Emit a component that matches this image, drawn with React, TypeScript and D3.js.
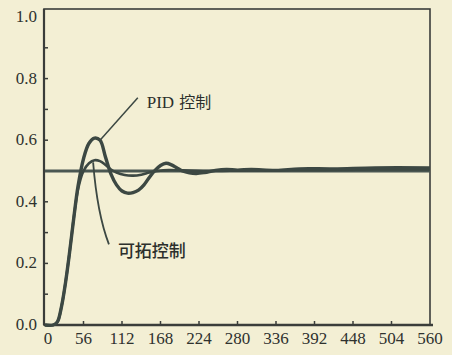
import React from "react";
import * as d3 from "d3";

// Step response: time axis and the two controller outputs
const pidTime = [0, 12, 18, 24, 30, 36, 42, 48, 56, 64, 72, 80, 88, 96, 104, 112, 120, 128, 136, 144, 152, 160, 168, 176, 184, 192, 200, 210, 220, 232, 248, 264, 280, 300, 336, 370, 420, 480, 560];
const pidValue = [0, 0, 0.01, 0.06, 0.14, 0.24, 0.35, 0.45, 0.54, 0.59, 0.607, 0.6, 0.545, 0.49, 0.455, 0.435, 0.428, 0.43, 0.438, 0.455, 0.48, 0.502, 0.518, 0.525, 0.52, 0.51, 0.5, 0.494, 0.492, 0.495, 0.502, 0.505, 0.503, 0.505, 0.502, 0.507, 0.507, 0.51, 0.51];

const extTime = [0, 12, 18, 24, 30, 36, 42, 48, 56, 64, 72, 80, 88, 96, 104, 116, 128, 140, 152, 164, 180, 200, 230, 300, 400, 480, 560];
const extValue = [0, 0, 0.01, 0.06, 0.14, 0.24, 0.35, 0.44, 0.5, 0.525, 0.535, 0.532, 0.52, 0.505, 0.495, 0.487, 0.485, 0.488, 0.495, 0.5, 0.503, 0.502, 0.5, 0.502, 0.503, 0.505, 0.505];

const setpoint = 0.5;

const xTicks = [0, 56, 112, 168, 224, 280, 336, 392, 448, 504, 560];
const yTicks = [0, 0.2, 0.4, 0.6, 0.8, 1.0];
const yMinorTicks = [0.1, 0.3, 0.5, 0.7, 0.9];

const pidLabel = ["PID", "控制"];
const extLabel = "可拓控制";

const W = 452;
const H = 355;
const left = 45;
const right = 430;
const top = 17;
const bottom = 325;

const ink = "#3c4843";
const axisInk = "#3a3d3a";
const serif = '"Liberation Serif", "Times New Roman", "DejaVu Serif", serif';
const cjk = '"Noto Sans CJK SC", sans-serif';

export default function App() {
  const x = d3.scaleLinear().domain([0, 560]).range([left, right]);
  const y = d3.scaleLinear().domain([0, 1]).range([bottom, top]);

  const line = d3
    .line<[number, number]>()
    .x((d) => x(d[0]))
    .y((d) => y(d[1]))
    .curve(d3.curveCatmullRom.alpha(0.5));

  const pidPts: [number, number][] = pidTime.map((t, i) => [t, pidValue[i]]);
  const extPts: [number, number][] = extTime.map((t, i) => [t, extValue[i]]);

  // leader lines from the curves to their labels
  const pidLeader = `M${x(80)},${y(0.6)} L${x(135)},${y(0.738)}`;
  const extLeader = `M${x(70)},${y(0.528)} Q${x(76)},${y(0.36)} ${x(93)},${y(0.262)}`;

  const tickText = { fontFamily: serif, fontSize: 17, fill: "#2f322f" };

  return (
    <svg
      width={W}
      height={H}
      style={{ position: "absolute", left: 0, top: 0, background: "#f3efd4" }}
    >
      <rect x={0} y={0} width={W} height={H} fill="#f3efd4" />

      {/* frame */}
      <rect
        x={left - 1}
        y={9}
        width={right - left + 1}
        height={bottom - 9}
        fill="none"
        stroke={axisInk}
        strokeWidth={1.6}
      />
      <line x1={left - 1} x2={right + 3} y1={bottom} y2={bottom} stroke={axisInk} strokeWidth={2.4} />
      <line x1={left - 1} x2={left - 1} y1={9} y2={bottom} stroke={axisInk} strokeWidth={2.2} />

      {/* x ticks */}
      {xTicks.map((t) => (
        <g key={"xt" + t}>
          {t > 0 && t < 560 && (
            <line x1={x(t)} x2={x(t)} y1={bottom} y2={bottom - 4} stroke={axisInk} strokeWidth={1.5} />
          )}
          <text x={x(t) + (t === 0 ? 3 : 0)} y={344} textAnchor="middle" style={tickText}>
            {t}
          </text>
        </g>
      ))}

      {/* y ticks */}
      {yTicks.map((v) => (
        <g key={"yt" + v}>
          {v > 0 && v < 1 && (
            <line x1={left} x2={left + 3} y1={y(v)} y2={y(v)} stroke={axisInk} strokeWidth={1.5} />
          )}
          <text x={37} y={y(v) + 5} textAnchor="end" style={tickText}>
            {v.toFixed(1)}
          </text>
        </g>
      ))}
      {yMinorTicks.map((v) => (
        <line key={"ym" + v} x1={left} x2={left + 3} y1={y(v)} y2={y(v)} stroke={axisInk} strokeWidth={1.5} />
      ))}

      {/* setpoint */}
      <line
        x1={x(0)}
        x2={x(560)}
        y1={y(setpoint)}
        y2={y(setpoint)}
        stroke="#4a5752"
        strokeWidth={2.8}
      />

      {/* responses */}
      <path d={line(extPts) ?? ""} fill="none" stroke={ink} strokeWidth={2.6} strokeLinejoin="round" />
      <path d={line(pidPts) ?? ""} fill="none" stroke={ink} strokeWidth={3.4} strokeLinejoin="round" />

      {/* labels */}
      <path d={pidLeader} fill="none" stroke={ink} strokeWidth={1.5} />
      <path d={extLeader} fill="none" stroke={ink} strokeWidth={1.8} />
      <text x={x(148)} y={y(0.705)} fill="#2c2f2c">
        <tspan style={{ fontFamily: serif, fontSize: 17 }}>{pidLabel[0]}</tspan>
        <tspan dx={5} style={{ fontFamily: cjk, fontSize: 16 }}>{pidLabel[1]}</tspan>
      </text>
      <text x={x(106)} y={y(0.222)} style={{ fontFamily: cjk, fontSize: 17, fontWeight: 500, fill: "#2c2f2c" }}>
        {extLabel}
      </text>
    </svg>
  );
}
